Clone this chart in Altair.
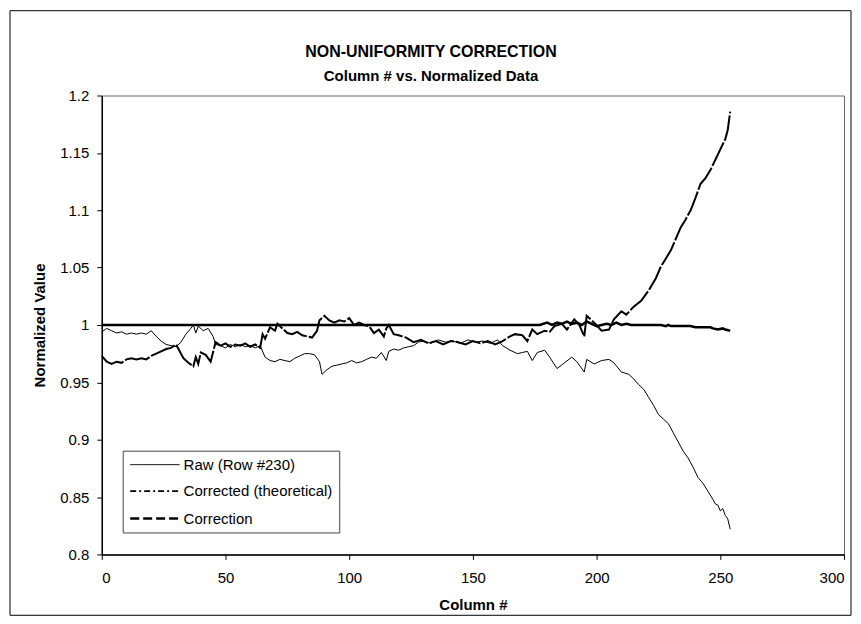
import altair as alt
import pandas as pd

SERIES = ["Raw (Row #230)", "Corrected (theoretical)", "Correction"]

raw_cols = [0, 2, 4, 6, 8, 10, 12, 14, 16, 18, 20, 22, 24, 26, 28, 30, 32, 34, 36, 37, 38, 39, 41, 43, 45, 46,
            48, 50, 52, 54, 56, 58, 60, 62, 64, 66, 68, 70, 72, 74, 76, 78, 80, 82, 84, 86, 88, 89, 91, 93, 95,
            97, 99, 101, 103, 105, 107, 109, 111, 113, 115, 116, 118, 120, 122, 124, 126, 128, 130, 133, 136,
            139, 142, 145, 148, 151, 154, 157, 160, 162, 165, 168, 170, 172, 174, 176, 179, 181, 184, 187, 190,
            192, 195, 196, 199, 202, 205, 207, 210, 213, 215, 217, 219, 221, 223, 225, 227, 229, 231, 233, 235,
            237, 239, 241, 243, 245, 247, 248, 249, 250, 251, 252, 253, 254]
raw_vals = [0.994, 0.997, 0.995, 0.993, 0.994, 0.992, 0.993, 0.992, 0.993, 0.992, 0.995, 0.990, 0.986, 0.983,
            0.982, 0.981, 0.985, 0.992, 0.997, 1.000, 0.993, 0.999, 0.995, 0.997, 0.990, 0.983, 0.982, 0.980,
            0.983, 0.981, 0.983, 0.981, 0.982, 0.980, 0.982, 0.972, 0.969, 0.968, 0.970, 0.969, 0.968, 0.971,
            0.973, 0.975, 0.975, 0.974, 0.968, 0.957, 0.961, 0.964, 0.965, 0.966, 0.967, 0.969, 0.967, 0.968,
            0.970, 0.972, 0.971, 0.976, 0.969, 0.977, 0.979, 0.978, 0.980, 0.981, 0.982, 0.985, 0.986, 0.984,
            0.987, 0.985, 0.986, 0.984, 0.987, 0.985, 0.986, 0.984, 0.987, 0.982, 0.978, 0.975, 0.976, 0.977,
            0.969, 0.976, 0.978, 0.972, 0.962, 0.967, 0.972, 0.968, 0.959, 0.970, 0.966, 0.969, 0.970, 0.967,
            0.959, 0.957, 0.953, 0.948, 0.944, 0.937, 0.930, 0.922, 0.918, 0.914, 0.906, 0.898, 0.890, 0.884,
            0.876, 0.867, 0.862, 0.855, 0.848, 0.844, 0.843, 0.838, 0.840, 0.834, 0.831, 0.822]

corrected_cols = [0, 177, 180, 182, 184, 186, 188, 190, 192, 194, 196, 198, 200, 202, 204, 206, 208, 210, 212,
                  214, 226, 228, 229, 230, 238, 239, 240, 246, 247, 249, 251, 252, 254]
corrected_vals = [1.000, 1.000, 1.002, 1.000, 1.002, 1.001, 1.003, 1.001, 1.002, 1.000, 1.003, 1.001, 0.999,
                  1.000, 1.001, 1.000, 1.002, 1.000, 1.001, 1.000, 1.000, 0.999, 1.000, 0.999, 0.999, 0.9985,
                  0.998, 0.998, 0.997, 0.996, 0.997, 0.996, 0.995]

correction_cols = [0, 2, 4, 6, 8, 10, 12, 14, 16, 18, 20, 22, 24, 26, 28, 30, 31, 33, 35, 37, 38, 39, 40, 42,
                   44, 46, 48, 50, 52, 54, 56, 58, 60, 62, 64, 65, 66, 68, 70, 71, 73, 75, 77, 79, 81, 83, 85,
                   87, 88, 90, 92, 94, 96, 98, 100, 102, 104, 106, 108, 110, 112, 114, 115, 116, 118, 120, 123,
                   126, 129, 132, 135, 138, 141, 144, 147, 150, 153, 156, 159, 162, 165, 167, 170, 172, 174,
                   176, 179, 181, 183, 186, 188, 191, 193, 195, 196, 199, 202, 205, 207, 210, 212, 215, 218,
                   221, 224, 226, 228, 230, 232, 234, 236, 238, 240, 242, 244, 246, 248, 250, 252, 253, 254]
correction_vals = [0.973, 0.968, 0.966, 0.968, 0.967, 0.970, 0.971, 0.970, 0.971, 0.970, 0.973, 0.975, 0.977,
                   0.979, 0.980, 0.983, 0.979, 0.971, 0.967, 0.964, 0.972, 0.966, 0.976, 0.974, 0.968, 0.985,
                   0.982, 0.984, 0.981, 0.983, 0.982, 0.984, 0.981, 0.983, 0.980, 0.992, 0.988, 0.998, 0.995,
                   1.001, 0.997, 0.993, 0.992, 0.994, 0.991, 0.990, 0.989, 0.995, 1.004, 1.008, 1.004, 1.002,
                   1.004, 1.003, 1.006, 1.000, 1.002, 1.000, 0.999, 0.993, 0.996, 0.990, 0.997, 1.000, 0.992,
                   0.991, 0.989, 0.985, 0.987, 0.984, 0.986, 0.983, 0.986, 0.985, 0.983, 0.986, 0.984, 0.986,
                   0.983, 0.986, 0.990, 0.992, 0.991, 0.986, 0.996, 0.992, 0.995, 0.994, 0.999, 1.001, 0.996,
                   1.005, 1.000, 0.990, 1.008, 1.002, 0.995, 0.996, 1.005, 1.012, 1.009, 1.016, 1.021, 1.030,
                   1.041, 1.051, 1.058, 1.065, 1.075, 1.085, 1.092, 1.100, 1.111, 1.123, 1.128, 1.135, 1.144,
                   1.153, 1.162, 1.170, 1.186]

x_ticks = [0, 50, 100, 150, 200, 250, 300]
y_ticks = [0.8, 0.85, 0.9, 0.95, 1.0, 1.05, 1.1, 1.15, 1.2]

rows = []
for name, cols, vals in [(SERIES[0], raw_cols, raw_vals),
                         (SERIES[1], corrected_cols, corrected_vals),
                         (SERIES[2], correction_cols, correction_vals)]:
    for c, v in zip(cols, vals):
        rows.append({"col": c, "val": v, "series": name})
df = pd.DataFrame(rows)

FONT = "Liberation Sans"

x_enc = alt.X("col:Q", scale=alt.Scale(domain=[0, 300], nice=False, zero=False),
              axis=alt.Axis(values=x_ticks, title="Column #", labelPadding=11, titlePadding=12))
y_enc = alt.Y("val:Q", scale=alt.Scale(domain=[0.8, 1.2], nice=False, zero=False),
              axis=alt.Axis(values=y_ticks, format="~g", title="Normalized Value", labelPadding=8,
                            titlePadding=12))

base = alt.Chart(df)

raw_layer = base.transform_filter(alt.datum.series == SERIES[0]).mark_line(
    color="black", strokeWidth=1).encode(x=x_enc, y=y_enc)
corrected_layer = base.transform_filter(alt.datum.series == SERIES[1]).mark_line(
    color="black", strokeWidth=2.5).encode(x=x_enc, y=y_enc)
correction_layer = base.transform_filter(alt.datum.series == SERIES[2]).mark_line(
    color="black", strokeWidth=2, strokeDash=[26, 2]).encode(x=x_enc, y=y_enc)

# legend line symbol: unit path scaled by sqrt(symbolSize)/2 = 7.5 -> ~49px long
legend_props = dict(orient="none", legendX=21, legendY=356, title=None, labelFont=FONT, labelFontSize=15,
                    labelColor="black", symbolSize=225, symbolType="M-1,0H5.6", strokeColor="#444",
                    fillColor="white", padding=6, labelOffset=37, labelLimit=0, rowPadding=10)

legend_layer = base.transform_filter("false").mark_line(color="black").encode(
    x=x_enc, y=y_enc,
    strokeDash=alt.StrokeDash("series:N", sort=SERIES,
                              scale=alt.Scale(domain=SERIES, range=[[1, 0], [6, 3, 2, 3], [9, 4]]),
                              legend=alt.Legend(**legend_props)),
    strokeWidth=alt.StrokeWidth("series:N", sort=SERIES,
                                scale=alt.Scale(domain=SERIES, range=[1, 2.5, 2.5]),
                                legend=alt.Legend(**legend_props)),
)

frame = alt.Chart(alt.Data(values=[{"a": 1}])).mark_rect(
    filled=False, stroke="black", strokeWidth=1).encode(
    x=alt.value(-92), x2=alt.value(751), y=alt.value(-85), y2=alt.value(521))

chart = alt.layer(frame, raw_layer, corrected_layer, correction_layer, legend_layer).properties(
    width=744, height=460, padding=1,
    title=alt.TitleParams(text="NON-UNIFORMITY CORRECTION", subtitle="Column # vs. Normalized Data",
                          font=FONT, fontSize=16, fontWeight="bold", color="black",
                          subtitleFont=FONT, subtitleFontSize=15, subtitleFontWeight="bold",
                          subtitleColor="black", subtitlePadding=9, anchor="middle", offset=-74, dx=-42),
).configure_axis(
    domainColor="black", domainWidth=1.5, tickColor="black", tickWidth=1, tickSize=5, grid=False,
    labelFont=FONT, labelFontSize=15, labelColor="black", titleFont=FONT, titleFontSize=15,
    titleFontWeight="bold", titleColor="black",
).configure_view(stroke="#666", strokeWidth=1)

chart.save("out.html", embed_options={"renderer": "svg", "actions": False})
